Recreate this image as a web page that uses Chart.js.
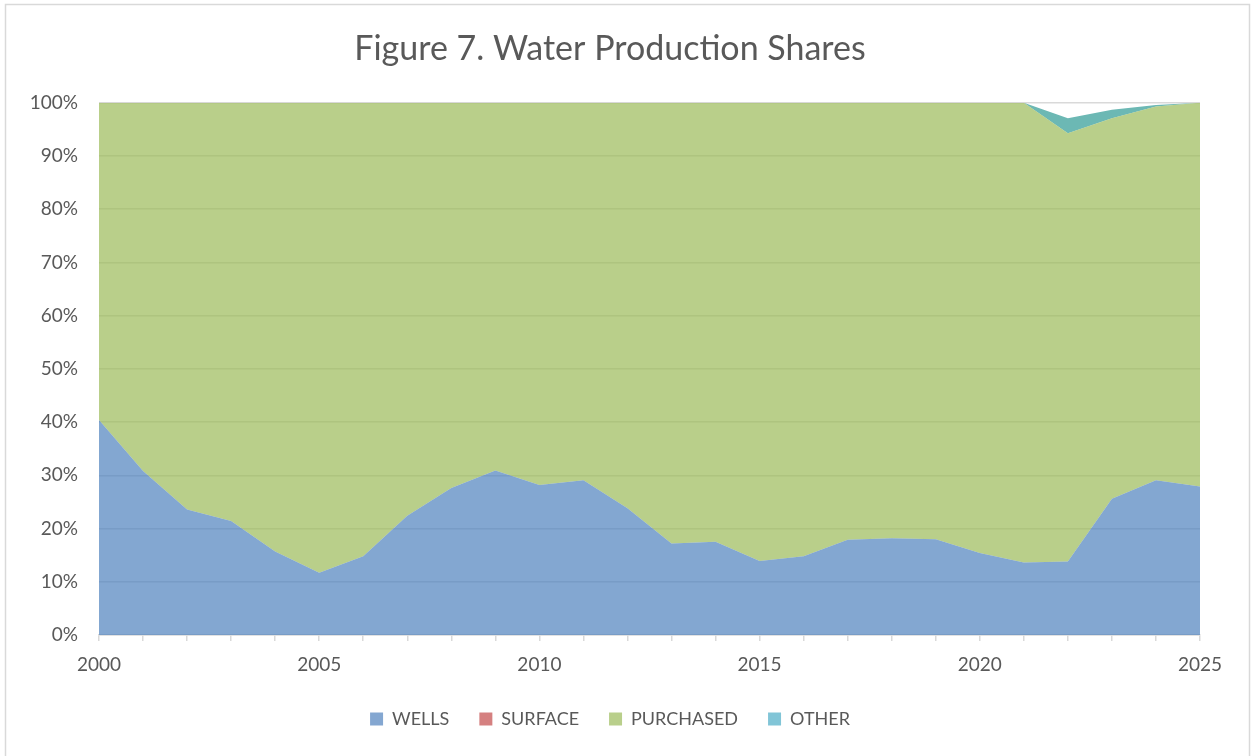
<!DOCTYPE html>
<html>
<head>
<meta charset="utf-8">
<script src="https://cdn.jsdelivr.net/npm/chart.js@4/dist/chart.umd.min.js"></script>
<style>
  body { margin: 0; background: #fff; }
  #wrap { width: 1252px; height: 756px; }
</style>
</head>
<body>
<div id="wrap"><canvas id="shareChart" width="1252" height="756"></canvas></div>
<script>
// Water production shares (% of total)
const years = [2000,2001,2002,2003,2004,2005,2006,2007,2008,2009,2010,2011,2012,
               2013,2014,2015,2016,2017,2018,2019,2020,2021,2022,2023,2024,2025];
const wells = [40.4,30.8,23.6,21.4,15.7,11.7,14.8,22.4,27.6,30.9,28.2,29.1,23.8,
               17.2,17.5,13.9,14.8,17.9,18.2,18.0,15.4,13.6,13.8,25.6,29.1,27.9];
const surface = [0,0,0,0,0,0,0,0,0,0,0,0,0,0,0,0,0,0,0,0,0,0,0,0,0,0];
const purchased = [59.6,69.2,76.4,78.6,84.3,88.3,85.2,77.6,72.4,69.1,71.8,70.9,76.2,
                   82.8,82.5,86.1,85.2,82.1,81.8,82.0,84.6,86.4,80.5,71.5,70.2,72.1];
const other = [0,0,0,0,0,0,0,0,0,0,0,0,0,0,0,0,0,0,0,0,0,0,2.8,1.6,0.3,0];
const yTicks = [0,10,20,30,40,50,60,70,80,90,100];

const txt = '#595959';
const gridCol = '#D9D9D9';
const fam = 'Lato, "Open Sans", sans-serif';
const legendCols = ['#84A7D1', '#D58080', '#B9CF8B', '#81C5D7'];

function area(label, data, color, fill) {
  return {
    label: label,
    data: data,
    backgroundColor: color,
    borderWidth: 0,
    pointRadius: 0,
    tension: 0,
    fill: fill
  };
}

const frame = {
  id: 'frame',
  beforeDraw(chart) {
    const c = chart.ctx;
    c.save();
    c.strokeStyle = gridCol;
    c.lineWidth = 1.5;
    c.strokeRect(5.5, 4.5, 1244, 760);
    c.restore();
  }
};

new Chart("shareChart", {
  type: "line",
  data: {
    labels: years,
    datasets: [
      area('WELLS', wells, 'rgba(79,129,189,0.7)', 'origin'),
      area('SURFACE', surface, 'rgba(192,80,77,0.7)', '-1'),
      area('PURCHASED', purchased, 'rgba(155,187,89,0.7)', '-1'),
      area('OTHER', other, '#6CB8B4', '-1')
    ]
  },
  options: {
    responsive: false,
    animation: false,
    layout: { padding: { left: 20, right: 52, top: 29, bottom: 18 } },
    plugins: {
      title: {
        display: true,
        text: 'Figure 7. Water Production Shares',
        color: txt,
        font: { size: 34, weight: 'normal', family: fam },
        padding: { top: 0, bottom: 33 }
      },
      legend: {
        position: 'bottom',
        labels: {
          color: txt,
          boxWidth: 13,
          boxHeight: 13,
          padding: 30,
          font: { size: 18, family: fam },
          generateLabels(chart) {
            return chart.data.datasets.map((ds, i) => ({
              text: ds.label,
              fillStyle: legendCols[i],
              strokeStyle: legendCols[i],
              lineWidth: 0,
              fontColor: txt,
              datasetIndex: i
            }));
          }
        }
      },
      tooltip: { enabled: false }
    },
    scales: {
      x: {
        stacked: true,
        offset: false,
        border: { display: true, color: gridCol, width: 1.5 },
        grid: { drawOnChartArea: false, drawTicks: true, tickLength: 6, color: gridCol, lineWidth: 1.5 },
        ticks: {
          color: txt,
          autoSkip: false,
          maxRotation: 0,
          padding: 12,
          font: { size: 19, family: fam },
          callback(v, i) { return years[i] % 5 === 0 ? String(years[i]) : ''; }
        },
        afterFit(s) { s.height = 45; }
      },
      y: {
        stacked: true,
        min: 0,
        max: 100,
        border: { display: false },
        grid: { color: gridCol, lineWidth: 1.5, drawTicks: false },
        afterBuildTicks(s) { s.ticks = yTicks.map(v => ({ value: v })); },
        ticks: {
          color: txt,
          padding: 21,
          font: { size: 19, family: fam },
          callback(v) { return v + '%'; }
        },
        afterFit(s) { s.width = 79; }
      }
    }
  },
  plugins: [frame]
});
</script>
</body>
</html>
